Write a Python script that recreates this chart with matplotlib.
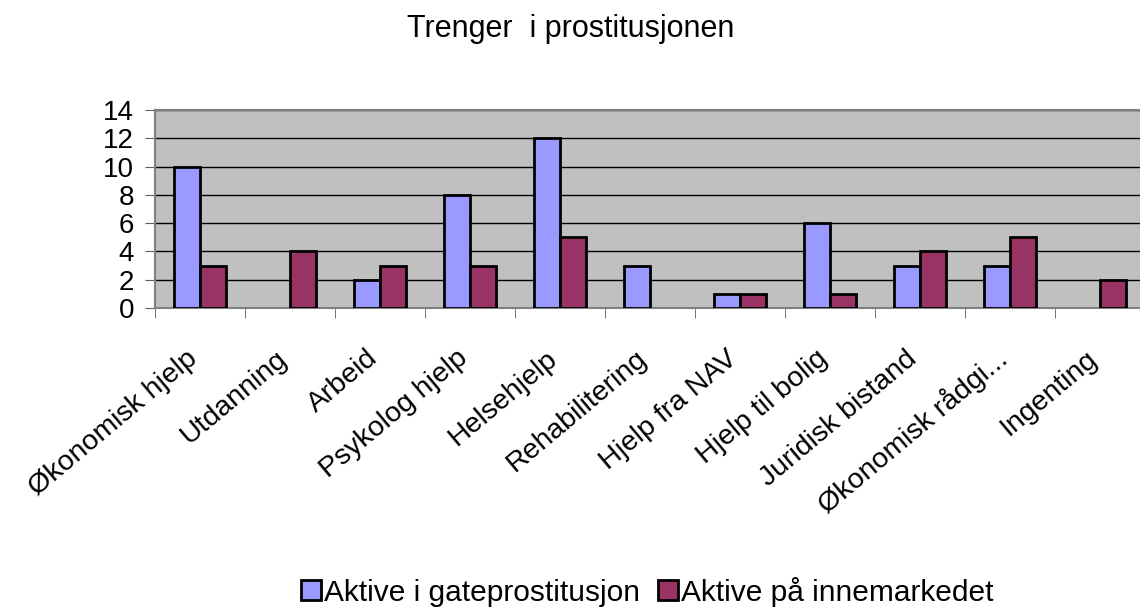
import numpy as np
import matplotlib.pyplot as plt
from matplotlib.transforms import ScaledTranslation

plt.rcParams['font.family'] = ['Liberation Sans', 'DejaVu Sans']

# data
categories = ['Økonomisk hjelp', 'Utdanning', 'Arbeid', 'Psykolog hjelp', 'Helsehjelp',
              'Rehabilitering', 'Hjelp fra NAV', 'Hjelp til bolig', 'Juridisk bistand',
              'Økonomisk rådgi...', 'Ingenting']
gate = [10, 0, 2, 8, 12, 3, 1, 6, 3, 3, 0]
inne = [3, 4, 3, 3, 5, 0, 1, 1, 4, 5, 2]
series_names = ['Aktive i gateprostitusjon', 'Aktive på innemarkedet']
yticks = [0, 2, 4, 6, 8, 10, 12, 14]

fig = plt.figure(figsize=(11.4, 6.08), dpi=100)
ax = fig.add_axes([0.136, 0.4934, 0.8684, 0.3257])
ax.set_facecolor('#c0c0c0')

x = np.arange(len(categories))
w = 0.289
# no outline for empty bars
ax.bar(x - w/2, gate, w, color='#9999ff', edgecolor='black',
       linewidth=[2 if v else 0 for v in gate], label=series_names[0], zorder=3)
ax.bar(x + w/2, inne, w, color='#993366', edgecolor='black',
       linewidth=[2 if v else 0 for v in inne], label=series_names[1], zorder=3)

ax.set_ylim(0, 14)
ax.set_xlim(-0.5, len(categories) - 0.5)
ax.set_yticks(yticks)
ax.set_yticklabels([str(v) for v in yticks], fontsize=20)
ax.yaxis.grid(True, color='black', linewidth=1, zorder=1)
ax.set_axisbelow(True)

# category labels at centers, tick marks at boundaries
ax.set_xticks(x)
ax.set_xticklabels(categories, rotation=40, ha='right', va='center',
                   rotation_mode='anchor', fontsize=20.5)
ax.tick_params(axis='x', which='major', length=0, pad=34)
shift = ScaledTranslation(-6 / 100, 0, fig.dpi_scale_trans)
for lbl in ax.get_xticklabels():
    lbl.set_transform(lbl.get_transform() + shift)
ax.set_xticks(np.arange(len(categories) + 1) - 0.5, minor=True)
ax.tick_params(axis='x', which='minor', length=7, color='#606060')
ax.tick_params(axis='y', length=7, color='#606060', pad=8)

for s in ['top', 'bottom', 'left']:
    ax.spines[s].set_color('#808080')
    ax.spines[s].set_linewidth(1.5)
ax.spines['right'].set_visible(False)

fig.text(0.501, 0.939, 'Trenger  i prostitusjonen', ha='center', va='baseline', fontsize=22)

fig.legend(loc='center', bbox_to_anchor=(0.568, 0.027), ncol=2, frameon=False,
           fontsize=21.5, handlelength=0.67, handleheight=0.67, handletextpad=0.1,
           columnspacing=0.6, borderpad=0)

plt.savefig('out.png', dpi=100)
